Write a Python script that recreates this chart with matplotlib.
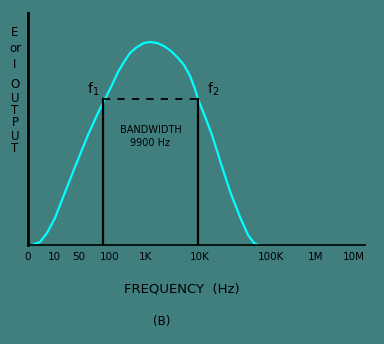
"""Frequency response of an amplifier showing the bandwidth between f1 and f2."""

import matplotlib.pyplot as plt

BG = "#417f7f"

# Frequency axis is drawn on a position scale; ticks carry the frequency names
tick_pos = [0, 26, 51, 82, 118, 172, 243, 288, 326]
tick_labels = ["0", "10", "50", "100", "1K", "10K", "100K", "1M", "10M"]

# Response curve (position along frequency axis, relative output)
curve_x = [4, 12, 19, 27, 34, 47, 60, 69, 77, 84, 90, 96, 102, 109, 116,
           122, 129, 136, 143, 150, 156, 162, 167, 170, 176, 184, 195, 203,
           212, 220, 226, 230]
curve_y = [0, 3, 12, 27, 45, 78, 110, 130, 146, 160, 173, 183, 192, 198, 202,
           203, 202, 199, 194, 187, 180, 169, 156, 146, 131, 110, 75, 51,
           28, 10, 2, 0]

f1_pos = 75
f2_pos = 170
half_power = 146
bandwidth_hz = 9900

plt.rcParams["mathtext.fontset"] = "dejavusans"

fig = plt.figure(figsize=(3.84, 3.44), dpi=100, facecolor=BG)
ax = fig.add_axes([28 / 384, 1 - 245 / 344, 337 / 384, 232 / 344])
ax.set_facecolor(BG)

ax.plot(curve_x, curve_y, color="#00ffff", lw=1.6, solid_capstyle="butt",
        solid_joinstyle="round", zorder=2)

# Bandwidth box: two verticals joined by a dashed line at the half-power level
ax.plot([f1_pos, f1_pos], [0, half_power], color="black", lw=1.6, zorder=3)
ax.plot([f2_pos, f2_pos], [0, half_power], color="black", lw=1.6, zorder=3)
ax.plot([f1_pos, f2_pos], [half_power, half_power], color="black", lw=1.3,
        ls=(0, (4, 4)), zorder=3)

ax.text(f1_pos - 4, half_power + 1, r"$\mathrm{f}_1$", ha="right", va="bottom",
        fontsize=10)
ax.text(f2_pos + 9, half_power + 1, r"$\mathrm{f}_2$", ha="left", va="bottom",
        fontsize=10)
ax.text((f1_pos + f2_pos) / 2, 115, "BANDWIDTH", ha="center", va="center",
        fontsize=7)
ax.text((f1_pos + f2_pos) / 2, 102, f"{bandwidth_hz} Hz", ha="center",
        va="center", fontsize=7)

ax.set_xlim(0, 337)
ax.set_ylim(0, 232)
ax.set_xticks(tick_pos)
ax.set_xticklabels(tick_labels, fontsize=7.5)
ax.set_yticks([])
ax.tick_params(axis="x", length=0, pad=5)
for side in ("top", "right"):
    ax.spines[side].set_visible(False)
ax.spines["left"].set_linewidth(2)
ax.spines["bottom"].set_linewidth(1.2)

# Stacked y-axis label
y_letters = ["E", "or", "I", "O", "U", "T", "P", "U", "T"]
y_rows = [32, 48, 65, 85, 98, 110, 123, 136, 148]
for letter, row in zip(y_letters, y_rows):
    fig.text(15 / 384, 1 - row / 344, letter, ha="center", va="center",
             fontsize=8.5)

fig.text(182 / 384, 1 - 289 / 344, "FREQUENCY  (Hz)", ha="center",
         va="center", fontsize=9.5)
fig.text(162 / 384, 1 - 321 / 344, "(B)", ha="center", va="center",
         fontsize=8.5)

fig.savefig("out.png", dpi=100, facecolor=BG)
